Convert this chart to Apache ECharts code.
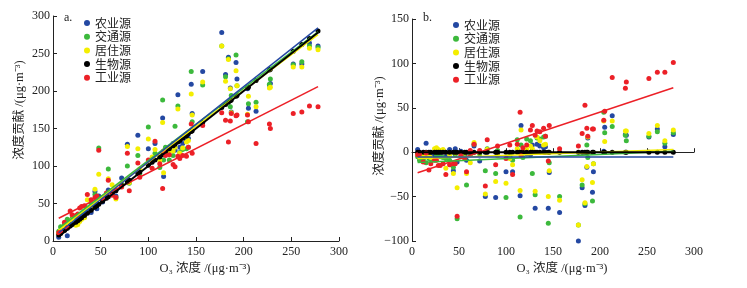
<!DOCTYPE html>
<html>
<head>
<meta charset="utf-8">
<script src="https://cdn.jsdelivr.net/npm/echarts@6/dist/echarts.min.js"></script>
<style>
  html, body { margin: 0; padding: 0; background: #fff; }
  #main { width: 747px; height: 288px; }
</style>
</head>
<body>
<div id="main"></div>
<script>
// O3 浓度 (横坐标, 两图共用)
const o3 = [6, 8, 12, 15, 18, 20, 24, 26, 28, 30, 33, 36, 40, 44, 46, 48, 52, 56, 58, 62,
  66, 72, 78, 80, 89, 91, 100, 104, 107, 112, 115, 116, 118, 122, 126, 128, 131, 133, 136, 140,
  142, 145, 146, 157, 177, 181, 184, 186, 187, 192, 193, 204, 205, 213, 227, 228, 252, 261, 269, 278];

const sourceNames = ['农业源', '交通源', '居住源', '生物源', '工业源'];
const colors = ['#2448a2', '#3cb93c', '#f4ee00', '#000000', '#ec2027'];

// a. 浓度贡献
const agriA = [5, 11, 15, 7, 22, 26, 28, 24, 27, 33, 32, 42, 38, 66, 43, 60, 52, 60, 68, 65,
  60, 84, 129, 80, 141, 94, 123, 110, 130, 110, 164, 86, 120, 125, 130, 121, 195, 125, 130, 135,
  137, 209, 170, 226, 278, 222, 245, 204, 172, 238, 216, 203, 177, 173, 208, 210, 236, 236, 264, 260];
const trafA = [13, 19, 22, 29, 27, 30, 32, 30, 33, 36, 40, 44, 50, 62, 50, 124, 58, 62, 96, 66,
  58, 76, 100, 77, 114, 90, 152, 109, 117, 98, 188, 108, 125, 108, 114, 153, 180, 118, 122, 123,
  125, 226, 159, 208, 260, 219, 243, 179, 194, 248, 207, 159, 183, 185, 209, 216, 235, 239, 260, 258];
const resA = [10, 14, 18, 22, 24, 28, 21, 22, 26, 29, 31, 55, 44, 69, 48, 89, 55, 58, 83, 75,
  56, 74, 126, 78, 123, 96, 136, 112, 122, 108, 158, 91, 118, 120, 120, 125, 176, 117, 124, 132,
  134, 196, 168, 212, 260, 213, 242, 203, 171, 227, 207, 169, 193, 179, 204, 205, 232, 232, 257, 255];
const bioA = [8, 10, 14, 17, 20, 22, 25, 27, 29, 31, 34, 37, 41, 45, 47, 49, 53, 57, 59, 63,
  67, 74, 79, 81, 90, 92, 101, 105, 108, 112, 115, 116, 119, 123, 127, 129, 132, 134, 137, 140,
  143, 146, 147, 158, 178, 182, 185, 187, 188, 193, 194, 204, 205, 214, 228, 229, 253, 262, 270, 280];
const indA = [11, 12, 25, 18, 40, 35, 34, 36, 44, 46, 47, 62, 55, 58, 60, 121, 57, 64, 81, 61,
  58, 72, 117, 67, 104, 85, 108, 97, 133, 103, 70, 120, 114, 115, 102, 99, 113, 110, 114, 113,
  125, 156, 117, 154, 171, 161, 132, 160, 170, 167, 168, 168, 159, 130, 156, 150, 170, 172, 180, 179];

// b. 浓度贡献差值
const agriB = [3, -1, -1, 10, -2, -4, -3, 3, 2, -2, 2, -5, 3, -21, 4, -11, 1, -3, -9, -2,
  7, -10, -50, 1, -51, -2, -22, -5, -22, 2, -49, 30, -1, -2, -3, 8, -63, 9, 7, 5,
  6, -63, -23, -68, -100, -40, -60, -17, 16, -45, -22, 1, 28, 41, 20, 19, 17, 26, 6, 20];
const trafB = [-5, -9, -8, -12, -7, -8, -7, -3, -4, -5, -6, -7, -9, -17, -3, -75, -5, -5, -37, -3,
  9, -2, -21, 4, -24, 2, -51, -4, -9, 14, -73, 8, -6, 15, 13, -24, -48, 16, 15, 17,
  18, -80, -12, -50, -82, -37, -58, 8, -6, -55, -13, 45, 22, 29, 19, 13, 18, 23, 10, 22];
const resB = [-2, -4, -4, -5, -4, -6, 4, 5, 3, 2, 3, -18, -3, -24, -1, -40, -2, -1, -24, -12,
  11, 0, -47, 3, -33, -4, -35, -7, -14, 4, -43, 25, 1, 3, 7, 4, -44, 17, 13, 8,
  9, -50, -21, -54, -82, -31, -57, -16, 17, -34, -13, 35, 12, 35, 24, 24, 21, 30, 13, 25];
const bioB = [0, 0, 0, 0, 0, 0, 0, 0, 0, 0, 0, 0, 0, 0, 0, 0, 0, 0, 0, 0,
  0, 0, 0, 0, 0, 0, 0, 0, 0, 0, 0, 0, 0, 0, 0, 0, 0, 0, 0, 0,
  0, 0, 0, 0, 0, 0, 0, 0, 0, 0, 0, 0, 0, 0, 0, 0, 0, 0, 0, 0];
const indB = [-3, -2, -11, -1, -20, -13, -9, -9, -15, -15, -13, -25, -14, -13, -13, -72, -4, -7, -22, 2,
  9, 2, -38, 14, -14, 7, -7, 8, -25, 9, 45, -4, 5, 8, 25, 30, 19, 24, 23, 27,
  18, -10, 30, 4, 7, 21, 53, 27, 18, 26, 26, 36, 46, 84, 72, 79, 83, 90, 90, 101];

// 拟合直线 y = k·x + b (顺序同 sourceNames)
const slopeA = [1.004, 0.963, 0.956, 1.0, 0.645];
const interceptA = [5, 11, 9.3, 0, 26.5];
const slopeB = [0, 0.047, 0.037, 0, 0.352];
const interceptB = [-5.3, -12, -7.2, 0, -25.3];

const seriesA = [agriA, trafA, resA, bioA, indA];
const seriesB = [agriB, trafB, resB, bioB, indB];

const serif = "'Liberation Serif', 'Noto Sans CJK SC', serif";
const cjk = "'Noto Sans CJK SC', 'Liberation Serif', serif";
const yName = '浓度贡献 /(μg·m⁻³)';

function pairs(ys) {
  return o3.map((x, i) => [x, ys[i]]);
}
function fitLine(k, b) {
  const x0 = o3[0], x1 = o3[o3.length - 1];
  return [[x0, k * x0 + b], [x1, k * x1 + b]];
}

function axisX(gi) {
  return {
    gridIndex: gi, type: 'value', min: 0, max: 300, interval: 50,
    name: 'O₃ 浓度 /(μg·m⁻³)', nameLocation: 'middle', nameGap: 18,
    nameTextStyle: { fontFamily: serif, fontSize: 12.5, color: '#222', padding: [0, 0, 0, 18] },
    axisLine: { lineStyle: { color: '#222', width: 1 } },
    axisTick: { inside: true, length: 4, lineStyle: { color: '#222' } },
    axisLabel: { fontFamily: serif, fontSize: 12, color: '#222', margin: 5 },
    splitLine: { show: false }
  };
}
function axisY(gi, min, max) {
  return {
    gridIndex: gi, type: 'value', min: min, max: max, interval: 50,
    axisLine: { show: true, lineStyle: { color: '#222', width: 1 } },
    axisTick: { show: true, inside: true, length: 4, lineStyle: { color: '#222' } },
    axisLabel: { fontFamily: serif, fontSize: 12, color: '#222', margin: 3,
      formatter: v => (v < 0 ? '−' + (-v) : String(v)) },
    splitLine: { show: false }
  };
}
function legendAt(left, top) {
  return {
    orient: 'vertical', left: left, top: top, icon: 'circle',
    itemWidth: 6, itemHeight: 6, itemGap: 1.7, padding: 0,
    textStyle: { fontFamily: cjk, fontSize: 12, lineHeight: 12, color: '#222' },
    data: sourceNames
  };
}
function yTitle(x, y) {
  return {
    type: 'text', x: x, y: y, rotation: Math.PI / 2,
    style: { text: yName, font: '12.5px ' + serif, fill: '#222', align: 'center', verticalAlign: 'middle' }
  };
}

const series = [];
[seriesA, seriesB].forEach((group, gi) => {
  group.forEach((ys, si) => {
    series.push({
      name: sourceNames[si], type: 'scatter', xAxisIndex: gi, yAxisIndex: gi,
      symbolSize: 5, itemStyle: { color: colors[si], opacity: 1 },
      data: pairs(ys), z: 2
    });
  });
});
// 拟合线
const lineOrder = [4, 2, 1, 0, 3];
lineOrder.forEach(si => {
  series.push({
    name: sourceNames[si] + '拟合', type: 'line', xAxisIndex: 0, yAxisIndex: 0,
    symbol: 'none', lineStyle: { color: colors[si], width: si === 3 ? 2 : 1.5 },
    data: fitLine(slopeA[si], interceptA[si]), z: 3, silent: true
  });
  series.push({
    name: sourceNames[si] + '拟合', type: 'line', xAxisIndex: 1, yAxisIndex: 1,
    symbol: 'none', lineStyle: { color: colors[si], width: si === 3 ? 2 : 1.5 },
    data: fitLine(slopeB[si], interceptB[si]), z: 3, silent: true
  });
});

const chart = echarts.init(document.getElementById('main'), null, { renderer: 'canvas' });
chart.setOption({
  animation: false,
  backgroundColor: '#fff',
  grid: [
    { left: 53, top: 16, width: 286, height: 225 },
    { left: 412, top: 19, width: 282, height: 222 }
  ],
  xAxis: [axisX(0), axisX(1)],
  yAxis: [axisY(0, 0, 300), axisY(1, -100, 150)],
  legend: [legendAt(84, 17), legendAt(453, 19)],
  graphic: [
    { type: 'text', left: 64, top: 12, style: { text: 'a.', font: '12px ' + serif, fill: '#222' } },
    { type: 'text', left: 423, top: 12, style: { text: 'b.', font: '12px ' + serif, fill: '#222' } },
    yTitle(20, 110),
    yTitle(380, 126)
  ],
  series: series
});
</script>
</body>
</html>
